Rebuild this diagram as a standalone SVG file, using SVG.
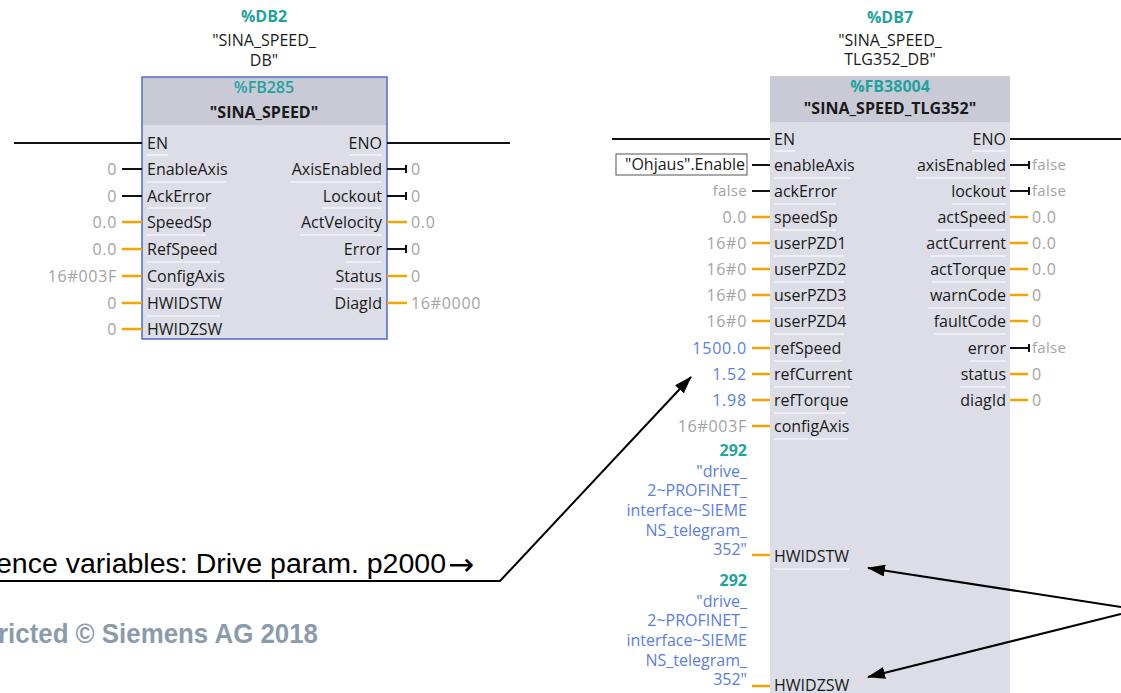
<svg xmlns="http://www.w3.org/2000/svg" width="1121" height="693" viewBox="0 0 1121 693">
<defs>
<style>
.t{font-family:"Open Sans","Noto Sans",sans-serif;font-size:16px;fill:#1a1a1a}
.b{font-weight:bold}
.teal{font-family:"Open Sans","Noto Sans",sans-serif;font-size:16px;font-weight:bold;fill:#1fa3a0}
.v{font-family:"Open Sans","Noto Sans",sans-serif;font-size:16px;fill:#a3a3a3;letter-spacing:0.7px}
.f{font-family:"Open Sans","Noto Sans",sans-serif;font-size:15px;fill:#a3a3a3;letter-spacing:0.3px}
.bl{font-family:"Open Sans","Noto Sans",sans-serif;font-size:16px;fill:#5a7ee2;letter-spacing:0.8px}
.bt{font-family:"Open Sans","Noto Sans",sans-serif;font-size:16px;fill:#5a7ee2}
.e{text-anchor:end}
.m{text-anchor:middle}
.ow{stroke:#f5a300;stroke-width:2.5}
.kw{stroke:#111;stroke-width:2}
.rail{stroke:#111;stroke-width:2}
.sep{stroke:#ffffff;stroke-width:1.2}
.ann{stroke:#000;stroke-width:2;fill:none}
</style>
<marker id="ah" markerWidth="18" markerHeight="12" refX="17" refY="6" orient="auto" markerUnits="userSpaceOnUse">
<path d="M0,0 L18,6 L0,12 Z" fill="#000"/>
</marker>
</defs>
<rect width="1121" height="693" fill="#ffffff"/>

<g id="block-sina-speed">
<text class="teal m" x="264" y="22">%DB2</text>
<text class="t m" x="264" y="46">"SINA_SPEED_</text>
<text class="t m" x="264" y="66">DB"</text>
<rect x="142" y="77" width="245" height="262" fill="#dcdde6" stroke="#4a6cc4" stroke-width="1.5"/>
<rect x="143" y="78" width="243" height="47" fill="#c9cad6"/>
<text class="teal m" x="264" y="93" style="font-weight:600">%FB285</text>
<text class="t b m" x="264" y="118">"SINA_SPEED"</text>
<g>
<text class="t" x="147" y="149">EN</text><line class="sep" x1="147" y1="155" x2="168" y2="155"/>
<text class="t" x="147" y="175">EnableAxis</text><line class="sep" x1="147" y1="182" x2="226" y2="182"/>
<text class="t" x="147" y="202">AckError</text><line class="sep" x1="147" y1="208" x2="206" y2="208"/>
<text class="t" x="147" y="228">SpeedSp</text><line class="sep" x1="147" y1="235" x2="206" y2="235"/>
<text class="t" x="147" y="255">RefSpeed</text><line class="sep" x1="147" y1="262" x2="220" y2="262"/>
<text class="t" x="147" y="282">ConfigAxis</text><line class="sep" x1="147" y1="289" x2="224" y2="289"/>
<text class="t" x="147" y="309">HWIDSTW</text><line class="sep" x1="147" y1="316" x2="220" y2="316"/>
<text class="t" x="147" y="335">HWIDZSW</text>
<text class="t e" x="382" y="149">ENO</text><line class="sep" x1="349" y1="155" x2="382" y2="155"/>
<text class="t e" x="382" y="175">AxisEnabled</text><line class="sep" x1="290" y1="182" x2="382" y2="182"/>
<text class="t e" x="382" y="202">Lockout</text><line class="sep" x1="322" y1="208" x2="382" y2="208"/>
<text class="t e" x="382" y="228">ActVelocity</text><line class="sep" x1="300" y1="235" x2="382" y2="235"/>
<text class="t e" x="382" y="255">Error</text><line class="sep" x1="345" y1="262" x2="382" y2="262"/>
<text class="t e" x="382" y="282">Status</text><line class="sep" x1="333" y1="289" x2="382" y2="289"/>
<text class="t e" x="382" y="309">DiagId</text>
</g>
<g>
<text class="v e" x="117" y="175">0</text>
<text class="v e" x="117" y="202">0</text>
<text class="v e" x="117" y="228">0.0</text>
<text class="v e" x="117" y="255">0.0</text>
<text class="v e" x="117" y="282">16#003F</text>
<text class="v e" x="117" y="309">0</text>
<text class="v e" x="117" y="335">0</text>
<text class="v" x="411" y="175">0</text>
<text class="v" x="411" y="202">0</text>
<text class="v" x="411" y="228">0.0</text>
<text class="v" x="411" y="255">0</text>
<text class="v" x="411" y="282">0</text>
<text class="v" x="411" y="309">16#0000</text>
</g>
</g>

<g id="block-sina-speed-tlg352">
<text class="teal m" x="890" y="23">%DB7</text>
<text class="t m" x="890" y="46">"SINA_SPEED_</text>
<text class="t m" x="890" y="65">TLG352_DB"</text>
<rect x="770" y="76" width="240" height="617" fill="#dcdde6"/>
<rect x="770" y="76" width="240" height="46" fill="#c9cad6"/>
<text class="teal m" x="890" y="92">%FB38004</text>
<text class="t b m" x="890" y="114">"SINA_SPEED_TLG352"</text>
<g>
<text class="t" x="774" y="145">EN</text><line class="sep" x1="774" y1="151" x2="795" y2="151"/>
<text class="t" x="774" y="171">enableAxis</text><line class="sep" x1="774" y1="178" x2="850" y2="178"/>
<text class="t" x="774" y="197">ackError</text><line class="sep" x1="774" y1="204" x2="836" y2="204"/>
<text class="t" x="774" y="223">speedSp</text><line class="sep" x1="774" y1="230" x2="836" y2="230"/>
<text class="t" x="774" y="249">userPZD1</text><line class="sep" x1="774" y1="256" x2="844" y2="256"/>
<text class="t" x="774" y="275">userPZD2</text><line class="sep" x1="774" y1="282" x2="844" y2="282"/>
<text class="t" x="774" y="301">userPZD3</text><line class="sep" x1="774" y1="308" x2="844" y2="308"/>
<text class="t" x="774" y="327">userPZD4</text><line class="sep" x1="774" y1="334" x2="844" y2="334"/>
<text class="t" x="774" y="354">refSpeed</text><line class="sep" x1="774" y1="361" x2="842" y2="361"/>
<text class="t" x="774" y="380">refCurrent</text><line class="sep" x1="774" y1="387" x2="850" y2="387"/>
<text class="t" x="774" y="406">refTorque</text><line class="sep" x1="774" y1="413" x2="846" y2="413"/>
<text class="t" x="774" y="432">configAxis</text><line class="sep" x1="774" y1="439" x2="848" y2="439"/>
<text class="t" x="774" y="562">HWIDSTW</text><line class="sep" x1="774" y1="569" x2="849" y2="569"/>
<text class="t" x="774" y="691">HWIDZSW</text>
<text class="t e" x="1006" y="145">ENO</text><line class="sep" x1="972" y1="151" x2="1006" y2="151"/>
<text class="t e" x="1006" y="171">axisEnabled</text><line class="sep" x1="916" y1="178" x2="1006" y2="178"/>
<text class="t e" x="1006" y="197">lockout</text><line class="sep" x1="952" y1="204" x2="1006" y2="204"/>
<text class="t e" x="1006" y="223">actSpeed</text><line class="sep" x1="936" y1="230" x2="1006" y2="230"/>
<text class="t e" x="1006" y="249">actCurrent</text><line class="sep" x1="930" y1="256" x2="1006" y2="256"/>
<text class="t e" x="1006" y="275">actTorque</text><line class="sep" x1="932" y1="282" x2="1006" y2="282"/>
<text class="t e" x="1006" y="301">warnCode</text><line class="sep" x1="928" y1="308" x2="1006" y2="308"/>
<text class="t e" x="1006" y="327">faultCode</text><line class="sep" x1="934" y1="334" x2="1006" y2="334"/>
<text class="t e" x="1006" y="354">error</text><line class="sep" x1="970" y1="361" x2="1006" y2="361"/>
<text class="t e" x="1006" y="380">status</text><line class="sep" x1="960" y1="387" x2="1006" y2="387"/>
<text class="t e" x="1006" y="406">diagId</text>
</g>
<g>
<rect x="616" y="154" width="131" height="21" fill="#ffffff" stroke="#555" stroke-width="1"/>
<text class="t e" x="745" y="170">"Ohjaus".Enable</text>
<text class="f e" x="747" y="196">false</text>
<text class="v e" x="747" y="223">0.0</text>
<text class="v e" x="747" y="249">16#0</text>
<text class="v e" x="747" y="275">16#0</text>
<text class="v e" x="747" y="301">16#0</text>
<text class="v e" x="747" y="327">16#0</text>
<text class="bl e" x="747" y="354">1500.0</text>
<text class="bl e" x="747" y="380">1.52</text>
<text class="bl e" x="747" y="406">1.98</text>
<text class="v e" x="747" y="432">16#003F</text>
<text class="teal e" x="747" y="456">292</text>
<text class="bt e" x="747" y="477">"drive_</text>
<text class="bt e" x="747" y="496">2~PROFINET_</text>
<text class="bt e" x="747" y="516">interface~SIEME</text>
<text class="bt e" x="747" y="536">NS_telegram_</text>
<text class="bt e" x="747" y="555">352"</text>
<text class="teal e" x="747" y="586">292</text>
<text class="bt e" x="747" y="607">"drive_</text>
<text class="bt e" x="747" y="626">2~PROFINET_</text>
<text class="bt e" x="747" y="646">interface~SIEME</text>
<text class="bt e" x="747" y="666">NS_telegram_</text>
<text class="bt e" x="747" y="685">352"</text>
<text class="f" x="1032" y="170">false</text>
<text class="f" x="1032" y="196">false</text>
<text class="v" x="1032" y="223">0.0</text>
<text class="v" x="1032" y="249">0.0</text>
<text class="v" x="1032" y="275">0.0</text>
<text class="v" x="1032" y="301">0</text>
<text class="v" x="1032" y="327">0</text>
<text class="f" x="1032" y="353">false</text>
<text class="v" x="1032" y="380">0</text>
<text class="v" x="1032" y="406">0</text>
</g>
</g>

<g id="connectors">
<line class="rail" x1="14" y1="143" x2="142" y2="143"/>
<line class="rail" x1="387" y1="143" x2="510" y2="143"/>
<line class="kw" x1="122" y1="169" x2="142" y2="169"/>
<line class="kw" x1="122" y1="196" x2="142" y2="196"/>
<line class="ow" x1="122" y1="222" x2="142" y2="222"/>
<line class="ow" x1="122" y1="249" x2="142" y2="249"/>
<line class="ow" x1="122" y1="276" x2="142" y2="276"/>
<line class="ow" x1="122" y1="303" x2="142" y2="303"/>
<line class="ow" x1="122" y1="329" x2="142" y2="329"/>
<path class="kw" fill="none" d="M387,169 H406 M406,165 V173 M387,196 H406 M406,192 V200 M387,249 H406 M406,245 V253"/>
<line class="ow" x1="387" y1="222" x2="407" y2="222"/>
<line class="ow" x1="387" y1="276" x2="407" y2="276"/>
<line class="ow" x1="387" y1="303" x2="407" y2="303"/>

<line class="rail" x1="612" y1="139" x2="770" y2="139"/>
<line class="rail" x1="1010" y1="139" x2="1121" y2="139"/>
<line class="kw" x1="752" y1="165" x2="770" y2="165"/>
<line class="kw" x1="752" y1="191" x2="770" y2="191"/>
<line class="ow" x1="752" y1="217" x2="770" y2="217"/>
<line class="ow" x1="752" y1="243" x2="770" y2="243"/>
<line class="ow" x1="752" y1="269" x2="770" y2="269"/>
<line class="ow" x1="752" y1="295" x2="770" y2="295"/>
<line class="ow" x1="752" y1="321" x2="770" y2="321"/>
<line class="ow" x1="752" y1="348" x2="770" y2="348"/>
<line class="ow" x1="752" y1="374" x2="770" y2="374"/>
<line class="ow" x1="752" y1="400" x2="770" y2="400"/>
<line class="ow" x1="752" y1="426" x2="770" y2="426"/>
<line class="ow" x1="752" y1="555" x2="770" y2="555"/>
<line class="ow" x1="752" y1="686" x2="770" y2="686"/>
<path class="kw" fill="none" d="M1010,165 H1029 M1029,161 V169 M1010,191 H1029 M1029,187 V195 M1010,348 H1029 M1029,344 V352"/>
<line class="ow" x1="1010" y1="217" x2="1028" y2="217"/>
<line class="ow" x1="1010" y1="243" x2="1028" y2="243"/>
<line class="ow" x1="1010" y1="269" x2="1028" y2="269"/>
<line class="ow" x1="1010" y1="295" x2="1028" y2="295"/>
<line class="ow" x1="1010" y1="321" x2="1028" y2="321"/>
<line class="ow" x1="1010" y1="374" x2="1028" y2="374"/>
<line class="ow" x1="1010" y1="400" x2="1028" y2="400"/>

<path class="ann" d="M0,581 H500 L691,377" marker-end="url(#ah)"/>
<line class="ann" x1="1121" y1="607" x2="868" y2="568" marker-end="url(#ah)"/>
<line class="ann" x1="1121" y1="614" x2="868" y2="677" marker-end="url(#ah)"/>
</g>

<g id="annotation">
<text x="-4" y="573" textLength="450" lengthAdjust="spacingAndGlyphs" style="font-family:'Liberation Sans',Arial,sans-serif;font-size:27px;fill:#000">ence variables: Drive param. p2000</text>
<text x="448" y="575" style="font-family:'DejaVu Sans',sans-serif;font-size:31px;fill:#000">→</text>
<text x="-2" y="643" textLength="320" lengthAdjust="spacingAndGlyphs" style="font-family:'Liberation Sans',Arial,sans-serif;font-size:27px;font-weight:bold;fill:#8b9bab">ricted © Siemens AG 2018</text>
</g>
</svg>
